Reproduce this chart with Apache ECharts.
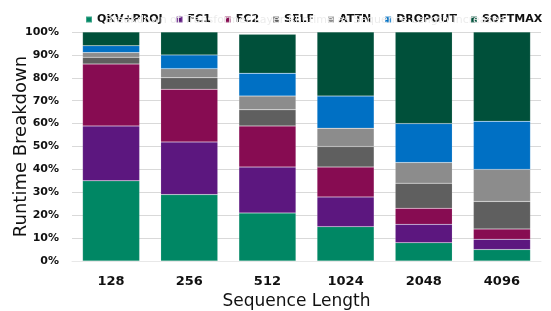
<!DOCTYPE html>
<html>
<head>
    <meta charset="UTF-8">
    <script src="https://cdn.jsdelivr.net/npm/echarts@6/dist/echarts.min.js"></script>
    <style>
        body { margin: 0; background: #fff; }
    </style>
</head>
<body>
    <div id="chart" style="width: 551px;height:311px"></div>
    <script>
    // sequence lengths (x categories)
    var categories = ['128', '256', '512', '1024', '2048', '4096'];
    // runtime share per component, in percent
    var qkvProj = [35, 29, 21, 15, 8, 5];
    var fc1 = [24, 23, 20, 13, 8, 4.5];
    var fc2 = [27, 23, 18, 13, 7, 4.5];
    var self = [3, 5, 7, 9, 11, 12];
    var attn = [2, 4, 6, 8, 9, 14];
    var dropout = [3, 6, 10, 14, 17, 21];
    var softmax = [6, 10, 17, 28, 40, 39];

    var seriesList = [
        { name: 'QKV+PROJ', data: qkvProj, color: '#008764' },
        { name: 'FC1', data: fc1, color: '#5c177f' },
        { name: 'FC2', data: fc2, color: '#870c52' },
        { name: 'SELF', data: self, color: '#5f5f5f' },
        { name: 'ATTN', data: attn, color: '#8c8c8c' },
        { name: 'DROPOUT', data: dropout, color: '#0070c4' },
        { name: 'SOFTMAX', data: softmax, color: '#00503a' }
    ];

    var font = 'DejaVu Sans';

    var option = {
        animation: false,
        title: {
            // faint title sitting behind the legend
            text: 'Breakdown of Transformer Layer Runtime as Sequence Length Increases',
            left: 300,
            top: 10,
            textAlign: 'center',
            textStyle: { color: '#ececec', fontSize: 11, fontWeight: 'normal', fontFamily: font }
        },
        legend: {
            top: 9,
            left: 80,
            itemWidth: 6,
            itemHeight: 6,
            itemGap: 13,
            icon: 'rect',
            textStyle: { fontFamily: font, fontWeight: 'bold', fontSize: 11, color: '#111' }
        },
        grid: { left: 72, right: 10, top: 32, bottom: 50, outerBoundsMode: 'none' },
        xAxis: {
            type: 'category',
            data: categories,
            name: 'Sequence Length',
            nameLocation: 'middle',
            nameGap: 32,
            nameMoveOverlap: false,
            nameTextStyle: { fontFamily: font, fontSize: 17, color: '#111', padding: [0, 20, 0, 0] },
            axisLine: { lineStyle: { color: '#e8e8e8' } },
            axisTick: { show: false },
            axisLabel: { fontFamily: font, fontWeight: 'bold', fontSize: 13, color: '#111', margin: 14 }
        },
        yAxis: {
            type: 'value',
            min: 0,
            max: 100,
            interval: 10,
            name: 'Runtime Breakdown',
            nameLocation: 'middle',
            nameGap: 42,
            nameMoveOverlap: false,
            nameTextStyle: { fontFamily: font, fontSize: 18, color: '#111' },
            axisLabel: { formatter: '{value}%', fontFamily: font, fontWeight: 'bold', fontSize: 11, color: '#111', margin: 13 },
            splitLine: { lineStyle: { color: '#d9d9d9' } },
            axisLine: { show: false },
            axisTick: { show: false }
        },
        series: seriesList.map(function(s) {
            return {
                name: s.name,
                type: 'bar',
                stack: 'total',
                barWidth: '73%',
                data: s.data,
                itemStyle: { color: s.color, borderColor: 'rgba(255,255,255,0.25)', borderWidth: 0.5 }
            };
        })
    };

    var myChart = echarts.init(document.getElementById('chart'));
    myChart.setOption(option);
    </script>
</body>
</html>
